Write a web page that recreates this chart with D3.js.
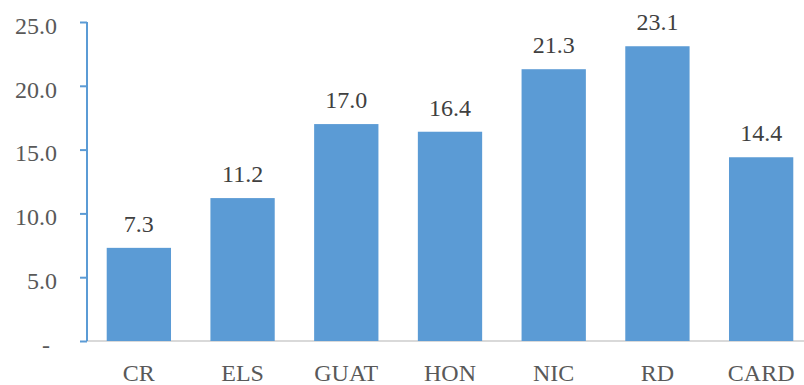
<!DOCTYPE html>
<html>
<head>
<meta charset="utf-8">
<script src="https://cdn.jsdelivr.net/npm/d3@7"></script>
<style>
  body { margin: 0; background: #fff; }
</style>
</head>
<body>
<div id="chart"></div>
<script>
var categories = ['CR', 'ELS', 'GUAT', 'HON', 'NIC', 'RD', 'CARD'];
var values = [7.3, 11.2, 17.0, 16.4, 21.3, 23.1, 14.4];
var yTicks = [0, 5, 10, 15, 20, 25];

var width = 804, height = 385;
var plotLeft = 87, plotRight = 813, plotTop = 22, plotBottom = 341;
var fontSize = 24;
var fontFam = 'Liberation Serif';

var svg = d3.select('#chart').append('svg')
  .attr('width', width)
  .attr('height', height)
  .attr('font-family', fontFam);

var x = d3.scaleBand()
  .domain(categories)
  .range([plotLeft, plotRight])
  .paddingInner(0.38)
  .paddingOuter(0.19);

var y = d3.scaleLinear()
  .domain([0, 25])
  .range([plotBottom, plotTop]);

// baseline
svg.append('line')
  .attr('x1', plotLeft).attr('x2', width)
  .attr('y1', y(0)).attr('y2', y(0))
  .attr('stroke', '#d9d9d9')
  .attr('stroke-width', 2);

svg.selectAll('rect.bar')
  .data(values)
  .enter()
  .append('rect')
  .attr('class', 'bar')
  .attr('x', function(d, i) { return x(categories[i]); })
  .attr('y', function(d) { return y(d); })
  .attr('width', x.bandwidth())
  .attr('height', function(d) { return y(0) - y(d); })
  .attr('fill', '#5b9bd5');

// value labels
svg.selectAll('text.val')
  .data(values)
  .enter()
  .append('text')
  .attr('class', 'val')
  .attr('x', function(d, i) { return x(categories[i]) + x.bandwidth() / 2; })
  .attr('y', function(d) { return y(d) - 16; })
  .attr('text-anchor', 'middle')
  .attr('font-family', fontFam)
  .attr('font-size', fontSize)
  .attr('fill', '#404040')
  .text(function(d) { return d.toFixed(1); });

// y axis
var yAxis = d3.axisLeft(y)
  .tickValues(yTicks)
  .tickSize(7)
  .tickFormat(function(d) { return d === 0 ? '-' : d.toFixed(1); });

var gy = svg.append('g')
  .attr('transform', 'translate(' + plotLeft + ',0)')
  .call(yAxis)
  .attr('font-family', fontFam)
  .attr('font-size', fontSize);
gy.select('.domain').attr('stroke', '#5b9bd5').attr('stroke-width', 2)
  .attr('d', 'M0,' + y(25) + 'V' + y(0));
gy.selectAll('.tick line').attr('stroke', '#5b9bd5').attr('stroke-width', 2);
gy.selectAll('.tick text')
  .attr('x', -30)
  .attr('dy', '0.47em')
  .attr('font-family', fontFam)
  .attr('font-size', fontSize)
  .attr('fill', '#595959');
gy.selectAll('.tick text').filter(function(d) { return d === 0; })
  .attr('x', -37);

// x labels
svg.selectAll('text.cat')
  .data(categories)
  .enter()
  .append('text')
  .attr('class', 'cat')
  .attr('x', function(d) { return x(d) + x.bandwidth() / 2; })
  .attr('y', 381)
  .attr('text-anchor', 'middle')
  .attr('font-family', fontFam)
  .attr('font-size', fontSize)
  .attr('fill', '#595959')
  .text(function(d) { return d; });
</script>
</body>
</html>
